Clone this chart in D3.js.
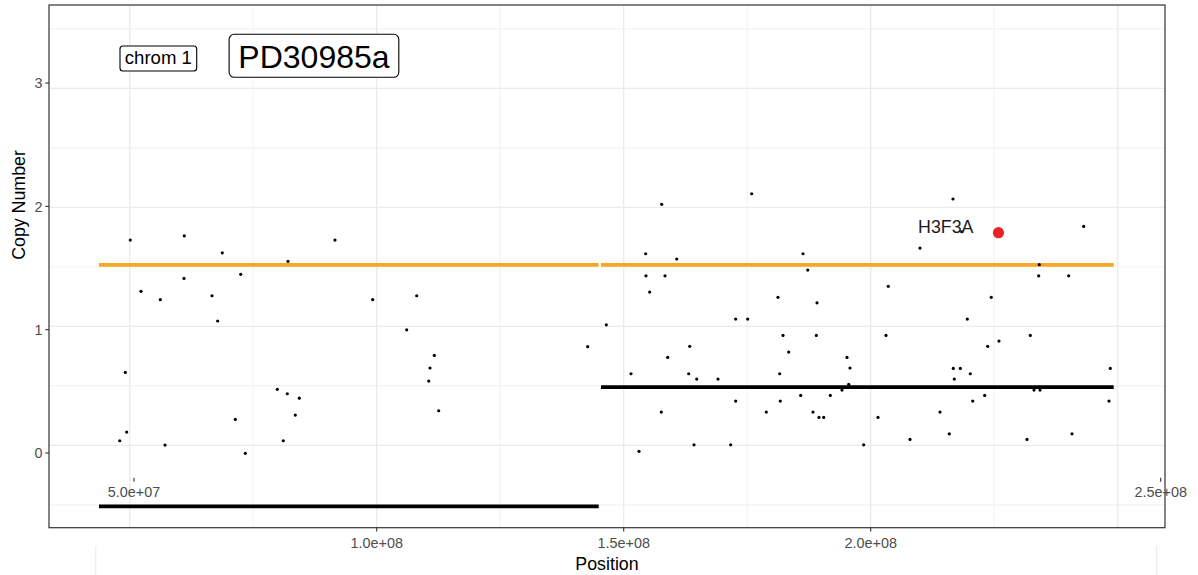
<!DOCTYPE html>
<html><head><meta charset="utf-8">
<script src="https://cdn.jsdelivr.net/npm/d3@7"></script>
<style>html,body{margin:0;padding:0;background:#fff;} svg{display:block;font-family:"Liberation Sans",Arial,Helvetica,sans-serif;}</style>
</head><body><svg id="chart" width="1198" height="575"></svg>
<script>
// ---------------- data ----------------
const positions = [50.12e6,61.05e6,68.74e6,82.04e6,91.56e6,72.47e6,60.99e6,52.29e6,56.19e6,66.66e6,67.81e6,99.19e6,49.11e6,79.88e6,81.90e6,84.33e6,83.52e6,71.38e6,49.39e6,47.98e6,57.15e6,81.09e6,73.40e6,108.10e6,106.07e6,111.66e6,110.79e6,110.53e6,112.55e6,142.71e6,146.48e6,151.48e6,154.45e6,154.51e6,155.26e6,153.10e6,157.69e6,175.91e6,160.73e6,158.36e6,186.30e6,187.25e6,181.23e6,189.13e6,172.67e6,175.10e6,182.25e6,188.99e6,163.36e6,158.91e6,183.40e6,195.20e6,195.81e6,163.16e6,164.78e6,169.09e6,181.58e6,195.55e6,194.19e6,185.83e6,191.82e6,172.67e6,181.70e6,157.61e6,178.87e6,188.32e6,189.53e6,190.49e6,201.48e6,164.23e6,171.66e6,198.58e6,207.96e6,209.98e6,203.56e6,203.10e6,216.66e6,243.12e6,218.42e6,234.13e6,234.01e6,240.08e6,224.41e6,219.55e6,232.31e6,225.97e6,223.68e6,216.72e6,218.14e6,248.50e6,220.16e6,216.92e6,233.06e6,234.27e6,223.08e6,220.65e6,248.24e6,214.03e6,215.91e6,240.75e6,231.64e6];
const copyNumber = [1.725,1.761,1.618,1.546,1.725,1.437,1.403,1.294,1.224,1.257,1.045,1.224,0.613,0.471,0.434,0.397,0.255,0.218,0.112,0.039,0.003,0.039,-0.067,1.257,0.971,0.756,0.650,0.540,0.291,0.829,1.013,0.602,1.610,1.425,1.288,-0.050,2.025,2.114,1.566,1.425,1.610,1.473,1.244,1.198,1.061,1.061,0.924,0.924,0.832,0.739,0.784,0.739,0.650,0.602,0.557,0.557,0.602,0.513,0.465,0.420,0.420,0.372,0.372,0.280,0.280,0.280,0.235,0.235,0.235,0.005,0.005,0.005,0.050,1.658,1.336,0.924,2.070,1.840,1.795,1.518,1.425,1.425,1.244,1.061,0.924,0.876,0.832,0.647,0.647,0.647,0.602,0.557,0.465,0.465,0.420,0.372,0.372,0.280,0.097,0.097,0.050];

const segStart = [43.79e6, 145.40e6];
const segEnd   = [144.94e6, 249.19e6];
const majorCopy = [1.517, 1.517];
const minorCopy = [-0.512, 0.490];

const geneName = ["H3F3A"];
const genePos  = [225.86e6];
const geneCopy = [1.787];

const xTickValues = [1e8, 1.5e8, 2e8];
const xTickLabels = ["1.0e+08", "1.5e+08", "2.0e+08"];
const xOuterTickValues = [5e7, 2.5e8];
const xOuterTickLabels = ["5.0e+07", "2.5e+08"];
const yTickValues = [0, 1, 2, 3];
const yTickLabels = ["0", "1", "2", "3"];
const xGridMajor = [5e7, 1e8, 1.5e8, 2e8, 2.5e8];
const xGridMinor = [7.5e7, 1.25e8, 1.75e8, 2.25e8];
const yGridMajor = [0, 1, 2, 3];
const yGridMinor = [-0.5, 0.5, 1.5, 2.5, 3.5];

const annotationText = ["chrom 1", "PD30985a"];
const annotationPos  = [55.8e6, 87.3e6];
const annotationCopy = [3.25, 3.273];

const xTitle = "Position";
const yTitle = "Copy Number";

// ---------------- layout / style ----------------
const W = 1198, H = 575;
const P = {left: 49, top: 5, right: 1165, bottom: 527.7};
const annStyle = [
  {size: 18.6, w: 76.7, h: 25, rx: 3, base: 18.3},
  {size: 32, w: 169.7, h: 43, rx: 5, base: 33.5}
];

const svg = d3.select("#chart");
svg.append("rect").attr("width", W).attr("height", H).attr("fill", "#fff");

const x = d3.scaleLinear().domain([33.664e6, 259.575e6]).range([P.left, P.right]);
const y = d3.scaleLinear().domain([-0.6916, 3.700]).range([P.bottom, P.top]);
const yAxisScale = d3.scaleLinear().domain([-0.606, 3.633]).range([P.bottom, P.top]);
const xOuter = d3.scaleLinear().domain([5e7, 2.5e8]).range([134, 1160.7]);

const grid = svg.append("g");
grid.selectAll(".ymin").data(yGridMinor).join("line")
  .attr("x1", P.left).attr("x2", P.right).attr("y1", d => y(d)).attr("y2", d => y(d))
  .attr("stroke", "#EBEBEB").attr("stroke-width", 0.7);
grid.selectAll(".xmin").data(xGridMinor).join("line")
  .attr("y1", P.top).attr("y2", P.bottom).attr("x1", d => x(d)).attr("x2", d => x(d))
  .attr("stroke", "#EBEBEB").attr("stroke-width", 0.7);
grid.selectAll(".ymaj").data(yGridMajor).join("line")
  .attr("x1", P.left).attr("x2", P.right).attr("y1", d => y(d)).attr("y2", d => y(d))
  .attr("stroke", "#EBEBEB").attr("stroke-width", 1.3);
grid.selectAll(".xmaj").data(xGridMajor).join("line")
  .attr("y1", P.top).attr("y2", P.bottom).attr("x1", d => x(d)).attr("x2", d => x(d))
  .attr("stroke", "#EBEBEB").attr("stroke-width", 1.3);

// segments
const segIdx = d3.range(segStart.length);
svg.append("g").selectAll("line").data(segIdx).join("line")
  .attr("x1", i => x(segStart[i])).attr("x2", i => x(segEnd[i]))
  .attr("y1", i => y(majorCopy[i])).attr("y2", i => y(majorCopy[i]))
  .attr("stroke", "#F5A623").attr("stroke-width", 3.8);
svg.append("g").selectAll("line").data(segIdx).join("line")
  .attr("x1", i => x(segStart[i])).attr("x2", i => x(segEnd[i]))
  .attr("y1", i => y(minorCopy[i])).attr("y2", i => y(minorCopy[i]))
  .attr("stroke", "#000").attr("stroke-width", 3.8);

// points
svg.append("g").selectAll("circle").data(d3.range(positions.length)).join("circle")
  .attr("cx", i => x(positions[i])).attr("cy", i => y(copyNumber[i]))
  .attr("r", 1.6).attr("fill", "#000");

// gene
const gIdx = d3.range(geneName.length);
svg.append("g").selectAll("circle").data(gIdx).join("circle")
  .attr("cx", i => x(genePos[i])).attr("cy", i => y(geneCopy[i]))
  .attr("r", 5.6).attr("fill", "#EC2227");
svg.append("g").selectAll("text").data(gIdx).join("text")
  .attr("x", i => x(genePos[i]) - 25).attr("y", i => y(geneCopy[i]))
  .attr("text-anchor", "end").attr("font-size", 17.8).attr("fill", "#1A1A1A")
  .text(i => geneName[i]);

// annotation labels
const ann = svg.append("g").selectAll("g").data(d3.range(annotationText.length)).join("g")
  .attr("transform", i => `translate(${x(annotationPos[i])},${y(annotationCopy[i])})`);
ann.append("rect")
  .attr("x", i => -annStyle[i].w / 2).attr("y", i => -annStyle[i].h / 2)
  .attr("width", i => annStyle[i].w).attr("height", i => annStyle[i].h)
  .attr("rx", i => annStyle[i].rx).attr("fill", "#fff").attr("stroke", "#000").attr("stroke-width", 1.1);
ann.append("text")
  .attr("text-anchor", "middle").attr("y", i => -annStyle[i].h / 2 + annStyle[i].base)
  .attr("font-size", i => annStyle[i].size).attr("fill", "#000")
  .text(i => annotationText[i]);

// panel border
svg.append("rect").attr("x", P.left).attr("y", P.top)
  .attr("width", P.right - P.left).attr("height", P.bottom - P.top)
  .attr("fill", "none").attr("stroke", "#333").attr("stroke-width", 1.2);

// y axis
const ya = svg.append("g");
ya.selectAll("line").data(yTickValues).join("line")
  .attr("x1", P.left - 3.7).attr("x2", P.left)
  .attr("y1", d => yAxisScale(d)).attr("y2", d => yAxisScale(d))
  .attr("stroke", "#333").attr("stroke-width", 1.1);
ya.selectAll("text").data(yTickValues).join("text")
  .attr("x", P.left - 6.5).attr("y", d => yAxisScale(d)).attr("dy", "0.36em")
  .attr("text-anchor", "end").attr("font-size", 14.4).attr("fill", "#4D4D4D")
  .text((d, i) => yTickLabels[i]);

// x axis
const xa = svg.append("g");
xa.selectAll("line").data(xTickValues).join("line")
  .attr("x1", d => x(d)).attr("x2", d => x(d))
  .attr("y1", P.bottom).attr("y2", P.bottom + 3.7)
  .attr("stroke", "#333").attr("stroke-width", 1.1);
xa.selectAll("text").data(xTickValues).join("text")
  .attr("x", d => x(d)).attr("y", P.bottom + 20)
  .attr("text-anchor", "middle").attr("font-size", 14.4).attr("fill", "#4D4D4D")
  .text((d, i) => xTickLabels[i]);

// stray outer ticks
const xo = svg.append("g");
xo.selectAll("line").data(xOuterTickValues).join("line")
  .attr("x1", d => xOuter(d)).attr("x2", d => xOuter(d))
  .attr("y1", 477.7).attr("y2", 481.7)
  .attr("stroke", "#333").attr("stroke-width", 1.1);
xo.selectAll("text").data(xOuterTickValues).join("text")
  .attr("x", d => xOuter(d)).attr("y", 497.3)
  .attr("text-anchor", "middle").attr("font-size", 14.4).attr("fill", "#4D4D4D")
  .text((d, i) => xOuterTickLabels[i]);

// faint stray lines beneath
svg.append("g").selectAll("line").data([95.7, 1156.7]).join("line")
  .attr("x1", d => d).attr("x2", d => d).attr("y1", 546).attr("y2", H)
  .attr("stroke", "#EBEBEB").attr("stroke-width", 1.1);

// titles
svg.append("text").attr("x", (P.left + P.right) / 2).attr("y", 570)
  .attr("text-anchor", "middle").attr("font-size", 17.8).attr("fill", "#000").text(xTitle);
svg.append("text").attr("transform", "translate(24.5,205) rotate(-90)")
  .attr("text-anchor", "middle").attr("font-size", 17.8).attr("fill", "#000").text(yTitle);
</script>
</body></html>
